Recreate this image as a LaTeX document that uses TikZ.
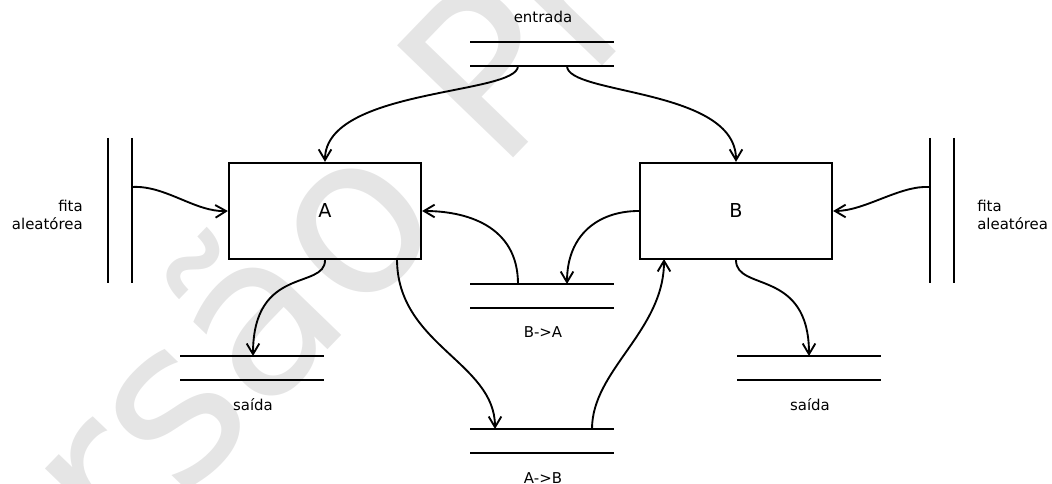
\documentclass[tikz,border=0pt]{standalone}
\usepackage{fontspec}
\setmainfont{DejaVu Sans}
\usetikzlibrary{arrows.meta}
\begin{document}
\begin{tikzpicture}[x=0.75pt,y=-0.75pt,
  lbl/.style={font=\fontsize{11.2}{13.9}\selectfont, inner sep=0pt},
  proc/.style={draw, line width=1.7pt, minimum width=144pt, minimum height=72pt,
    inner sep=0pt, font=\fontsize{14.4}{16}\selectfont},
  storeline/.style={line width=1.5pt},
  arr/.style={line width=1.4pt, -{Straight Barb[length=8pt,width=9.5pt,line width=1.4pt]}},
  wm/.style={text=black!10, font=\fontsize{166}{166}\selectfont, inner sep=0pt}
]
\useasboundingbox (0,0) rectangle (1052,484);
\begin{scope}
\clip (0,0) rectangle (1052,484);
\node[wm, anchor=base west, rotate=46] (wmark) at (-70,762) {Versão Preliminar};
\end{scope}

% processes
\node[proc] (A) at (325,211) {A};
\node[proc] (B) at (736,211) {B};

% stores
\draw[storeline] (470,42) -- (614,42) (470,66) -- (614,66);
\draw[storeline] (470,284) -- (614,284) (470,308) -- (614,308);
\draw[storeline] (470,429) -- (614,429) (470,453) -- (614,453);
\draw[storeline] (180,356) -- (324,356) (180,380) -- (324,380);
\draw[storeline] (737,356) -- (881,356) (737,380) -- (881,380);
% tapes
\draw[storeline] (108,138) -- (108,283) (132,138) -- (132,283);
\draw[storeline] (930,138) -- (930,283) (954,138) -- (954,283);

% labels
\node[lbl, anchor=base] (tent) at (543,23) {entrada};
\node[lbl, anchor=base] (tba) at (543,338) {B->A};
\node[lbl, anchor=base] (tab) at (543,483) {A->B};
\node[lbl, anchor=base] (tsl) at (253,410) {saída};
\node[lbl, anchor=base] (tsr) at (810,410) {saída};
\node[lbl, anchor=east, align=right] (tfl) at (83,215) {fita\\aleatórea};
\node[lbl, anchor=west, align=left] (tfr) at (977,215) {fita\\aleatórea};

% connection points
\coordinate (ent1) at (518,66);
\coordinate (ent2) at (567,66);
\coordinate (ba1) at (518,284);
\coordinate (ba2) at (567,284);
\coordinate (ab1) at (495,429);
\coordinate (ab2) at (592,429);
\coordinate (sl) at (253,356);
\coordinate (sr) at (809,356);
\coordinate (tl) at (132,187);
\coordinate (tr) at (930,187);
\coordinate (Aout) at (397,259);
\coordinate (Bin) at (664,259);

% connectors
\draw[arr] (ent1) .. controls (518,95) and (325,88) .. (A.north);
\draw[arr] (ent2) .. controls (567,95) and (736,88) .. (B.north);
\draw[arr] (tl) .. controls (165,185) and (195,212) .. (A.west);
\draw[arr] (tr) .. controls (900,185) and (865,211) .. (B.east);
\draw[arr] (A.south) .. controls (325,290) and (253,265) .. (sl);
\draw[arr] (B.south) .. controls (736,292) and (809,268) .. (sr);
\draw[arr] (ba1) .. controls (518,225) and (465,211) .. (A.east);
\draw[arr] (B.west) .. controls (598,211) and (567,235) .. (ba2);
\draw[arr] (Aout) .. controls (397,345) and (495,362) .. (ab1);
\draw[arr] (ab2) .. controls (592,370) and (664,331) .. (Bin);
\end{tikzpicture}
\end{document}
